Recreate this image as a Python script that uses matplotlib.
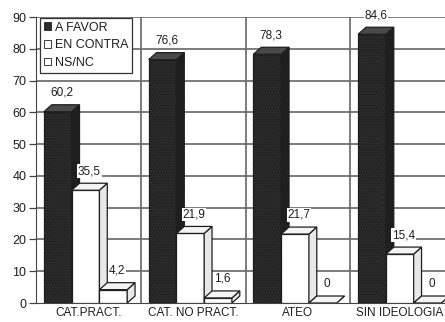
import matplotlib.pyplot as plt
import numpy as np
from matplotlib.patches import Polygon, Patch

plt.rcParams['font.family'] = ['Liberation Sans', 'DejaVu Sans']
plt.rcParams['hatch.color'] = '#606060'
plt.rcParams['hatch.linewidth'] = 0.8

categories = ['CAT.PRACT.', 'CAT. NO PRACT.', 'ATEO', 'SIN IDEOLOGIA']
series_names = ['A FAVOR', 'EN CONTRA', 'NS/NC']
a_favor = [60.2, 76.6, 78.3, 84.6]
en_contra = [35.5, 21.9, 21.7, 15.4]
ns_nc = [4.2, 1.6, 0, 0]

values = [a_favor, en_contra, ns_nc]
front_colors = ['#2c2c2c', '#ffffff', '#ffffff']
side_colors = ['#202020', '#e8e8e8', '#e8e8e8']
top_colors = ['#4a4a4a', '#f4f4f4', '#f4f4f4']
ink = '#1e1e1e'

fig = plt.figure(figsize=(4.45, 3.22), dpi=100)
# axes runs past the right edge of the figure on purpose
ax = fig.add_axes([0.081, 0.059, 0.9416, 0.888])

bar_w = 0.265
dx = 0.075   # depth of the fake 3d
dy = 2.2
offsets = [-0.425, -0.16, 0.105]

x = np.arange(len(categories))
z = 3
for s, vals in enumerate(values):
    lefts = x + offsets[s]
    ax.bar(lefts, vals, width=bar_w, align='edge', color=front_colors[s],
           edgecolor=ink, linewidth=0.9, zorder=z,
           hatch='......' if s == 0 else None)
    for l, v in zip(lefts, vals):
        side = Polygon([(l + bar_w, 0), (l + bar_w + dx, dy),
                        (l + bar_w + dx, v + dy), (l + bar_w, v)],
                       closed=True, facecolor=side_colors[s],
                       edgecolor=ink, linewidth=0.9, zorder=z,
                       hatch='......' if s == 0 else None)
        top = Polygon([(l, v), (l + dx, v + dy), (l + bar_w + dx, v + dy),
                       (l + bar_w, v)], closed=True, facecolor=top_colors[s],
                      edgecolor=ink, linewidth=0.9, zorder=z)
        ax.add_patch(side)
        ax.add_patch(top)
        lab = f'{v:g}'.replace('.', ',')
        ax.text(l + bar_w / 2 + dx / 2, v + 6, lab, ha='center', va='center',
                fontsize=8.5, color=ink, zorder=10,
                bbox=dict(facecolor='white', edgecolor='none', pad=0.5))
    z += 1

ax.set_xlim(-0.5, 3.5)
ax.set_ylim(0, 90)
ax.set_yticks(np.arange(0, 91, 10))
ax.set_xticks(x)
# the last group label is placed by hand so it stays inside the figure
ax.set_xticklabels(categories[:-1] + [''], fontsize=8.5, color=ink)
fig.text(0.997, (322 - 307) / 322, categories[-1], ha='right', va='top',
         fontsize=8.5, color=ink)
ax.tick_params(axis='y', labelsize=9, labelcolor=ink, length=5,
               width=0.9, color='#444444', pad=2)
ax.tick_params(axis='x', length=0, pad=3)

# horizontal grid plus the separators between groups
for yv in np.arange(10, 91, 10):
    ax.axhline(yv, color='#666666', lw=1.2, zorder=1)
for xv in [0.5, 1.5, 2.5]:
    ax.axvline(xv, color='#666666', lw=1.2, zorder=1)

for side in ['top', 'right']:
    ax.spines[side].set_visible(False)
ax.spines['left'].set_color('#444444')
ax.spines['bottom'].set_color('#444444')

handles = [Patch(facecolor=front_colors[i], edgecolor=ink, linewidth=0.6)
           for i in range(3)]
leg = ax.legend(handles, series_names, loc='upper left',
                bbox_to_anchor=(0.01, 0.997), fontsize=9, frameon=True,
                fancybox=False, edgecolor='#333333', framealpha=1,
                handlelength=0.6, handleheight=0.6, handletextpad=0.25,
                labelspacing=0.45, borderpad=0.3, borderaxespad=0)
leg.set_zorder(20)
leg.get_frame().set_linewidth(0.9)
for t in leg.get_texts():
    t.set_color(ink)

fig.savefig('out.png', dpi=100)
